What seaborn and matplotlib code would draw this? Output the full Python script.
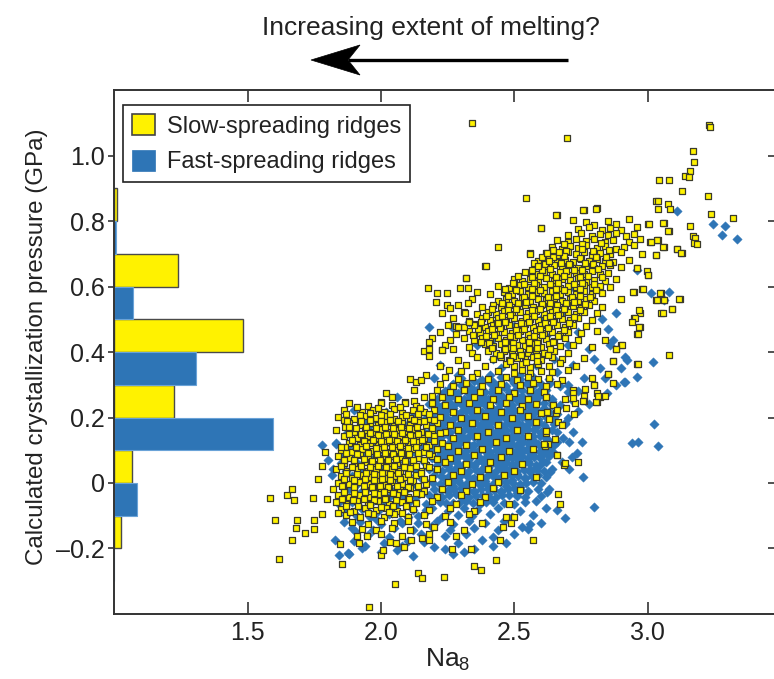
import matplotlib
matplotlib.use("Agg")
import matplotlib.pyplot as plt
from matplotlib.patches import Patch, Polygon
from matplotlib.lines import Line2D
import pandas as pd
import seaborn as sns

sns.set_theme(style="white")
plt.rcParams["font.family"] = ["Liberation Sans", "DejaVu Sans"]
plt.rcParams["mathtext.default"] = "regular"

YELLOW = "#FFF200"
BLUE = "#2E75B6"
INK = "#222222"

# ---------------- histogram of crystallization pressure (fraction of samples per 0.2 GPa bin)
bin_centres = [-0.2, 0.0, 0.2, 0.4, 0.6, 0.8]
slow_fraction = [0.024, 0.067, 0.224, 0.481, 0.238, 0.009]
fast_fraction = [0.0, 0.085, 0.595, 0.307, 0.069, 0.006]

# ---------------- slow-spreading ridges (Na8, pressure in GPa)
slow_upper = [
    (2.76, .835), (2.81, .840), (2.66, .818),
    (2.72, .803), (2.77, .796), (2.80, .789), (2.85, .799), (2.88, .791), (2.93, .806), (3.00, .790), (3.06, .793),
    (2.60, .778), (2.74, .775), (2.78, .781), (2.83, .772), (2.86, .779), (2.90, .774), (2.96, .783),
    (2.70, .757), (2.75, .762), (2.79, .754), (2.82, .760), (2.85, .756), (2.88, .763), (2.92, .755), (2.95, .761), (3.01, .737), (3.08, .770),
    (2.66, .741), (2.70, .736), (2.73, .744), (2.77, .738), (2.80, .745), (2.84, .735), (2.87, .742), (2.93, .737), (2.97, .746), (3.04, .742),
    (2.64, .722), (2.68, .716), (2.71, .724), (2.74, .719), (2.77, .726), (2.81, .717), (2.84, .723), (2.88, .715), (2.91, .721), (2.95, .727), (3.06, .722), (3.11, .715),
    (2.56, .701), (2.62, .703), (2.66, .697), (2.70, .705), (2.73, .699), (2.76, .704), (2.79, .696), (2.82, .702), (2.86, .698), (2.90, .706), (2.98, .699), (3.03, .695), (3.13, .702),
    (2.59, .678), (2.63, .684), (2.66, .676), (2.69, .682), (2.72, .675), (2.75, .683), (2.78, .677), (2.81, .685), (2.84, .679), (2.87, .674), (2.93, .681),
    (2.39, .664), (2.59, .663), (2.62, .657), (2.65, .665), (2.68, .659), (2.71, .666), (2.74, .658), (2.77, .664), (2.80, .656), (2.83, .662), (2.86, .667), (2.90, .660), (2.96, .655),
    (2.54, .643), (2.58, .637), (2.61, .645), (2.64, .638), (2.67, .644), (2.70, .636), (2.73, .642), (2.76, .639), (2.79, .646), (2.82, .637), (2.85, .641), (3.00, .635),
    (2.32, .627), (2.50, .622), (2.53, .616), (2.56, .624), (2.59, .618), (2.62, .625), (2.65, .617), (2.68, .623), (2.71, .619), (2.74, .626), (2.77, .615), (2.80, .621), (2.84, .618), (2.88, .624),
    (2.44, .601), (2.48, .596), (2.52, .604), (2.55, .598), (2.58, .605), (2.61, .597), (2.64, .603), (2.67, .595), (2.70, .602), (2.73, .599), (2.76, .606), (2.79, .597), (2.82, .603), (2.86, .599), (2.98, .593),
    (2.36, .582), (2.41, .577), (2.46, .584), (2.49, .578), (2.52, .585), (2.55, .576), (2.58, .583), (2.61, .579), (2.64, .586), (2.67, .577), (2.70, .584), (2.73, .578), (2.76, .585), (2.79, .576), (2.83, .581), (2.95, .584), (3.05, .579),
    (2.34, .561), (2.44, .556), (2.47, .563), (2.50, .557), (2.53, .564), (2.56, .555), (2.59, .562), (2.62, .558), (2.65, .565), (2.68, .556), (2.71, .563), (2.74, .557), (2.77, .561), (2.80, .555), (2.90, .563), (3.03, .559), (3.06, .559), (3.12, .562),
    (2.29, .542), (2.38, .536), (2.42, .543), (2.45, .537), (2.48, .544), (2.51, .535), (2.54, .542), (2.57, .538), (2.60, .545), (2.63, .536), (2.66, .543), (2.69, .537), (2.72, .541), (2.75, .535), (2.78, .543), (2.83, .538), (3.09, .530),
    (2.31, .521), (2.36, .516), (2.40, .523), (2.43, .517), (2.46, .524), (2.49, .515), (2.52, .522), (2.55, .518), (2.58, .525), (2.61, .516), (2.64, .523), (2.67, .517), (2.70, .521), (2.73, .515), (2.76, .522), (2.81, .518), (2.97, .519), (3.05, .519),
    (2.27, .503), (2.33, .496), (2.38, .504), (2.41, .497), (2.44, .505), (2.47, .498), (2.50, .503), (2.53, .495), (2.56, .502), (2.59, .497), (2.62, .504), (2.65, .496), (2.68, .501), (2.71, .498), (2.74, .505), (2.79, .499), (2.95, .503),
    (2.25, .482), (2.30, .476), (2.35, .484), (2.39, .477), (2.42, .483), (2.45, .475), (2.48, .482), (2.51, .478), (2.54, .485), (2.57, .476), (2.60, .483), (2.63, .477), (2.66, .481), (2.69, .475), (2.72, .482), (2.77, .478), (2.97, .477),
    (2.22, .461), (2.28, .456), (2.33, .463), (2.37, .457), (2.40, .464), (2.43, .455), (2.46, .462), (2.49, .458), (2.52, .465), (2.55, .456), (2.58, .463), (2.61, .457), (2.64, .461), (2.67, .455), (2.70, .462), (2.75, .458), (2.81, .464), (2.96, .456),
    (2.19, .442), (2.26, .436), (2.31, .443), (2.35, .437), (2.38, .444), (2.41, .435), (2.44, .442), (2.47, .438), (2.50, .445), (2.53, .436), (2.56, .443), (2.59, .437), (2.62, .441), (2.65, .435), (2.69, .442), (2.74, .438), (2.84, .436),
    (2.24, .421), (2.33, .416), (2.39, .423), (2.42, .417), (2.45, .424), (2.48, .415), (2.51, .422), (2.54, .418), (2.57, .425), (2.60, .416), (2.63, .423), (2.67, .417), (2.72, .421), (2.79, .415), (2.90, .422),
    (2.16, .402), (2.23, .407), (2.27, .408), (2.34, .396), (2.40, .403), (2.43, .397), (2.46, .404), (2.49, .395), (2.52, .402), (2.55, .398), (2.58, .405), (2.61, .396), (2.65, .403), (2.70, .397), (2.88, .410),
    (2.18, .389), (2.29, .377), (2.36, .384), (2.42, .378), (2.45, .385), (2.48, .376), (2.51, .383), (2.54, .379), (2.57, .386), (2.60, .377), (2.64, .384), (2.68, .378), (2.76, .382), (2.87, .373),
    (2.22, .356), (2.255, .344), (2.32, .361), (2.39, .356), (2.47, .363), (2.50, .357), (2.53, .364), (2.56, .355), (2.59, .362), (2.63, .358), (2.67, .365), (2.73, .356), (2.96, .363),
    (2.17, .331), (2.30, .342), (2.36, .336), (2.44, .343), (2.50, .337), (2.53, .344), (2.56, .335), (2.60, .342), (2.64, .338), (2.70, .344), (2.85, .332),
    (2.11, .317), (2.13, .309), (2.15, .314), (2.24, .323), (2.29, .317), (2.34, .324), (2.40, .318), (2.47, .325), (2.51, .316), (2.55, .323), (2.59, .317), (2.63, .321), (2.68, .315), (2.79, .322),
    (2.22, .302), (2.27, .296), (2.32, .304), (2.38, .297), (2.45, .303), (2.52, .298), (2.57, .305), (2.62, .296), (2.66, .301), (2.80, .300), (2.87, .304),
    (2.125, .284), (2.21, .283), (2.26, .277), (2.31, .284), (2.37, .278), (2.44, .285), (2.50, .276), (2.56, .283), (2.61, .279), (2.72, .283), (2.81, .274),
    (2.02, .274), (2.00, .246), (2.04, .264), (2.09, .248), (2.125, .250), (2.16, .264), (2.19, .266), (2.23, .262), (2.29, .256), (2.35, .263), (2.42, .257), (2.48, .264), (2.55, .255), (2.62, .262), (2.69, .256), (2.76, .265), (2.82, .264), (2.81, .248),
    (2.799, .300), (2.806, .248), (2.76, .249), (2.727, .243), (2.725, .212), (2.692, .230), (2.662, .185), (2.617, .154), (2.652, .133), (2.628, .118),
    (2.615, .113), (2.661, .085), (2.686, .055), (2.74, .063), (2.662, -.033), (2.671, -.064), (2.646, .238), (2.656, .213), (2.621, .218), (2.721, .274),
    (2.719, .259), (2.759, .251), (2.765, .286),
]

slow_upper_core = [
    (2.685, .731), (2.755, .729), (2.825, .733),
    (2.645, .711), (2.695, .709), (2.755, .713), (2.795, .708), (2.855, .712),
    (2.605, .691), (2.645, .689), (2.685, .692), (2.745, .688), (2.805, .691), (2.845, .689),
    (2.575, .671), (2.615, .669), (2.675, .672), (2.705, .668), (2.765, .671), (2.795, .669), (2.855, .672),
    (2.565, .651), (2.605, .649), (2.635, .652), (2.695, .648), (2.725, .651), (2.755, .649), (2.815, .652),
    (2.515, .631), (2.565, .629), (2.595, .632), (2.655, .628), (2.685, .631), (2.745, .629), (2.775, .632), (2.830, .628),
    (2.495, .611), (2.535, .609), (2.575, .612), (2.635, .608), (2.665, .611), (2.725, .609), (2.755, .612), (2.800, .608),
    (2.465, .591), (2.505, .589), (2.565, .592), (2.595, .588), (2.655, .591), (2.685, .589), (2.745, .592), (2.805, .588),
    (2.475, .571), (2.535, .569), (2.565, .572), (2.625, .568), (2.655, .571), (2.715, .569), (2.745, .572), (2.785, .568),
    (2.455, .551), (2.515, .549), (2.545, .552), (2.605, .548), (2.635, .551), (2.695, .549), (2.725, .552), (2.765, .548),
    (2.415, .531), (2.475, .529), (2.505, .532), (2.565, .528), (2.595, .531), (2.655, .529), (2.685, .532), (2.745, .528),
    (2.395, .511), (2.455, .509), (2.485, .512), (2.545, .508), (2.575, .511), (2.635, .509), (2.665, .512), (2.725, .508),
    (2.375, .491), (2.435, .489), (2.465, .492), (2.525, .488), (2.555, .491), (2.615, .489), (2.645, .492), (2.705, .488),
    (2.365, .471), (2.415, .469), (2.445, .472), (2.505, .468), (2.535, .471), (2.595, .469), (2.625, .472), (2.685, .468),
    (2.345, .451), (2.395, .449), (2.425, .452), (2.485, .448), (2.515, .451), (2.575, .449), (2.605, .452), (2.665, .448),
    (2.375, .431), (2.405, .429), (2.465, .432), (2.495, .428), (2.555, .431), (2.585, .429), (2.645, .432),
    (2.415, .411), (2.465, .409), (2.495, .412), (2.555, .408), (2.585, .411), (2.635, .409),
    (2.445, .391), (2.495, .389), (2.525, .392), (2.585, .388), (2.625, .391),
    (2.485, .371), (2.545, .369), (2.585, .372),
]

slow_lower = [
    (1.88, .243), (1.95, .236), (2.00, .244), (2.04, .238), (2.09, .245), (2.13, .236), (2.19, .243), (2.24, .237), (2.33, .244), (2.41, .238), (2.47, .245), (2.53, .236), (2.58, .242),
    (1.86, .222), (1.93, .216), (1.97, .224), (2.01, .217), (2.05, .225), (2.08, .215), (2.12, .223), (2.16, .218), (2.20, .224), (2.27, .216), (2.36, .223), (2.45, .217), (2.52, .224), (2.60, .215), (2.66, .222),
    (1.84, .201), (1.90, .196), (1.94, .204), (1.98, .197), (2.02, .205), (2.05, .195), (2.08, .202), (2.11, .198), (2.14, .205), (2.18, .196), (2.22, .203), (2.30, .197), (2.39, .204), (2.49, .198), (2.55, .205), (2.63, .196),
    (1.88, .182), (1.92, .176), (1.96, .184), (1.99, .177), (2.02, .185), (2.05, .175), (2.08, .182), (2.11, .178), (2.14, .185), (2.17, .176), (2.21, .183), (2.26, .177), (2.34, .184), (2.44, .178), (2.58, .185), (2.68, .176),
    (1.83, .161), (1.90, .156), (1.94, .163), (1.97, .157), (2.00, .164), (2.03, .155), (2.06, .162), (2.09, .158), (2.12, .165), (2.15, .156), (2.19, .163), (2.24, .157), (2.29, .161), (2.40, .155), (2.51, .162), (2.62, .158),
    (1.86, .142), (1.91, .136), (1.95, .143), (1.98, .137), (2.01, .144), (2.04, .135), (2.07, .142), (2.10, .138), (2.13, .145), (2.16, .136), (2.20, .143), (2.27, .137), (2.36, .144), (2.47, .138), (2.55, .145),
    (1.88, .121), (1.92, .116), (1.96, .123), (1.99, .117), (2.02, .124), (2.05, .115), (2.08, .122), (2.11, .118), (2.14, .125), (2.18, .116), (2.23, .123), (2.32, .117), (2.43, .124), (2.61, .118),
    (1.85, .101), (1.89, .096), (1.93, .104), (1.97, .097), (2.00, .105), (2.03, .095), (2.06, .102), (2.09, .098), (2.12, .105), (2.16, .096), (2.21, .103), (2.29, .097), (2.38, .104), (2.48, .098), (2.57, .105),
    (1.84, .082), (1.88, .076), (1.92, .084), (1.95, .077), (1.98, .085), (2.01, .075), (2.04, .082), (2.07, .078), (2.10, .085), (2.14, .076), (2.19, .083), (2.26, .077), (2.35, .084), (2.45, .078), (2.66, .085),
    (1.86, .061), (1.90, .056), (1.94, .063), (1.97, .057), (2.00, .064), (2.03, .055), (2.06, .062), (2.09, .058), (2.12, .065), (2.17, .056), (2.24, .063), (2.32, .057), (2.41, .064), (2.53, .058), (2.69, .061),
    (1.83, .042), (1.87, .036), (1.91, .043), (1.95, .037), (1.98, .044), (2.01, .035), (2.04, .042), (2.07, .038), (2.11, .045), (2.15, .036), (2.21, .043), (2.30, .037), (2.40, .044), (2.50, .038),
    (1.85, .021), (1.89, .016), (1.93, .023), (1.96, .017), (1.99, .024), (2.02, .015), (2.05, .022), (2.09, .018), (2.13, .025), (2.19, .016), (2.27, .023), (2.37, .017), (2.46, .024), (2.58, .018),
    (1.84, .001), (1.88, -.004), (1.92, .004), (1.95, -.003), (1.98, .005), (2.01, -.005), (2.04, .002), (2.08, -.002), (2.12, .005), (2.17, -.004), (2.25, .003), (2.34, -.003), (2.44, .004),
    (1.82, -.019), (1.86, -.024), (1.90, -.016), (1.94, -.023), (1.97, -.015), (2.00, -.025), (2.03, -.018), (2.07, -.022), (2.11, -.015), (2.16, -.024), (2.23, -.017), (2.32, -.023), (2.42, -.016), (2.52, -.022),
    (1.84, -.038), (1.88, -.044), (1.92, -.036), (1.96, -.043), (1.99, -.035), (2.02, -.045), (2.06, -.038), (2.10, -.042), (2.15, -.035), (2.21, -.044), (2.30, -.037), (2.39, -.043),
    (1.83, -.059), (1.87, -.064), (1.91, -.056), (1.95, -.063), (1.99, -.055), (2.03, -.065), (2.08, -.058), (2.13, -.062), (2.19, -.055), (2.28, -.064), (2.37, -.057), (2.48, -.063),
    (1.85, -.079), (1.90, -.084), (1.94, -.076), (1.98, -.083), (2.02, -.075), (2.06, -.085), (2.12, -.078), (2.18, -.082), (2.26, -.076), (2.35, -.084),
    (1.87, -.099), (1.92, -.104), (1.97, -.096), (2.01, -.103), (2.05, -.095), (2.10, -.105), (2.16, -.098), (2.24, -.102), (2.33, -.096), (2.47, -.104),
    (1.89, -.119), (1.95, -.124), (2.00, -.116), (2.05, -.123), (2.10, -.115), (2.17, -.125), (2.26, -.118), (2.38, -.122),
    (1.93, -.139), (1.98, -.144), (2.04, -.136), (2.11, -.143), (2.20, -.135), (2.31, -.142),
    (1.91, -.161), (2.00, -.156), (2.08, -.163), (2.18, -.157), (2.28, -.162),
]

slow_lower_core = [
    (1.91, .231), (1.99, .229), (2.07, .233), (2.145, .228),
    (1.87, .211), (1.92, .208), (1.96, .213), (2.00, .209), (2.035, .212), (2.095, .208), (2.14, .212), (2.18, .210),
    (1.86, .191), (1.925, .189), (1.96, .192), (2.00, .188), (2.035, .191), (2.065, .189), (2.125, .192), (2.16, .188), (2.20, .191),
    (1.865, .171), (1.905, .169), (1.945, .172), (1.98, .168), (2.015, .171), (2.045, .169), (2.075, .172), (2.105, .168), (2.135, .171), (2.19, .169),
    (1.88, .151), (1.925, .149), (1.96, .152), (1.99, .148), (2.02, .151), (2.05, .149), (2.08, .152), (2.11, .148), (2.14, .151), (2.175, .149), (2.22, .152),
    (1.89, .131), (1.935, .129), (1.97, .132), (2.00, .128), (2.03, .131), (2.06, .129), (2.09, .132), (2.12, .128), (2.155, .131), (2.20, .129),
    (1.865, .111), (1.905, .109), (1.945, .112), (1.98, .108), (2.01, .111), (2.04, .109), (2.07, .112), (2.10, .108), (2.13, .111), (2.17, .109), (2.25, .112),
    (1.87, .091), (1.91, .089), (1.95, .092), (1.985, .088), (2.015, .091), (2.045, .089), (2.075, .092), (2.105, .088), (2.14, .091), (2.18, .089),
    (1.86, .071), (1.90, .069), (1.935, .072), (1.965, .068), (1.995, .071), (2.025, .069), (2.055, .072), (2.09, .068), (2.12, .071), (2.16, .069), (2.21, .072),
    (1.85, .051), (1.89, .049), (1.925, .052), (1.96, .048), (1.99, .051), (2.02, .049), (2.05, .052), (2.085, .048), (2.13, .051), (2.18, .049),
    (1.87, .031), (1.91, .029), (1.945, .032), (1.975, .028), (2.005, .031), (2.035, .029), (2.065, .032), (2.10, .028), (2.15, .031),
    (1.86, .011), (1.90, .009), (1.94, .012), (1.975, .008), (2.005, .011), (2.035, .009), (2.07, .012), (2.11, .008), (2.16, .011),
    (1.855, -.009), (1.90, -.011), (1.935, -.008), (1.965, -.012), (1.995, -.009), (2.025, -.011), (2.06, -.008), (2.10, -.012), (2.14, -.009),
    (1.86, -.029), (1.90, -.031), (1.94, -.028), (1.975, -.032), (2.01, -.029), (2.045, -.031), (2.085, -.028), (2.13, -.032),
    (1.855, -.049), (1.895, -.051), (1.935, -.048), (1.975, -.052), (2.015, -.049), (2.055, -.051), (2.105, -.048),
    (1.87, -.069), (1.915, -.071), (1.96, -.068), (2.00, -.072), (2.045, -.069), (2.095, -.071),
    (1.885, -.089), (1.95, -.091), (2.03, -.088), (2.08, -.092),
]

slow_sparse = [
    (1.584, -.045), (1.646, -.037), (1.668, -.018), (1.675, -.053), (1.744, -.045), (1.799, -.049), (1.603, -.113), (1.685, -.113),
    (1.750, -.113), (1.681, -.136), (1.715, -.152), (1.749, -.140), (1.779, -.096), (1.666, -.175), (1.618, -.232), (1.853, -.248),
    (1.765, .011), (1.778, .053), (1.789, .094), (1.851, .109), (1.871, .189), (1.879, .172), (1.838, -.091), (1.848, -.186),
    (1.946, -.163), (1.916, -.183), (1.999, -.220), (2.009, -.205), (2.034, -.179), (2.055, -.182), (2.053, -.307), (2.140, -.276),
    (2.154, -.291), (2.238, -.287), (1.955, -.378), (2.088, -.195), (2.114, -.175), (2.153, -.168), (2.179, -.174), (2.266, -.202),
    (2.339, -.202), (2.349, -.252), (2.374, -.266), (2.433, -.235), (2.446, -.175), (2.571, -.174), (2.500, -.103), (2.456, -.135),
    (2.488, -.123),
    (2.18, .408), (2.18, .432), (2.23, .407), (2.28, .479), (2.31, .477), (2.35, .482), (2.44, .488),
    (2.178, .594), (2.209, .581), (2.246, .579), (2.296, .594), (2.206, .554), (2.246, .544), (2.259, .533), (2.228, .518),
    (2.320, .625), (2.328, .594), (2.328, .549), (2.315, .518), (2.290, .477), (2.330, .492),
    (2.340, 1.100), (2.696, 1.054), (3.230, 1.093), (3.234, 1.087), (3.170, 1.014), (3.175, .981), (3.159, .953), (3.141, .937),
    (3.154, .933), (3.043, .925), (3.080, .925), (3.130, .893), (3.228, .877), (3.030, .862), (3.039, .862), (3.038, .838),
    (3.076, .853), (3.084, .837), (3.239, .822), (3.321, .810), (3.159, .786), (3.170, .755), (3.179, .749), (3.173, .734),
    (3.184, .731), (2.544, .869), (2.656, .817), (2.759, .835), (2.808, .838), (2.599, .778), (2.438, .722), (2.559, .698),
    (2.393, .664), (2.590, .663), (2.621, .702), (2.668, .705), (2.630, .678),
    (3.004, .790), (3.058, .793), (3.078, .770), (3.111, .715), (3.126, .702), (3.058, .722), (3.036, .742), (3.030, .695),
    (3.011, .737), (2.996, .648), (3.000, .635), (2.984, .593), (2.959, .655), (3.048, .579), (3.034, .559), (3.060, .559),
    (3.116, .562), (3.091, .530), (3.056, .519), (3.081, .391), (2.946, .584), (2.969, .529), (2.953, .503), (2.940, .493),
    (2.969, .477), (2.963, .456), (2.964, .363), (2.904, .421), (2.853, .332), (2.839, .265), (2.813, .265), (2.869, .373),
    (2.880, .410),
]

# ---------------- fast-spreading ridges (Na8, pressure in GPa)
fast_core = [
    (2.30, .322), (2.38, .316), (2.45, .324), (2.52, .317), (2.57, .323), (2.63, .318),
    (2.27, .302), (2.33, .296), (2.41, .304), (2.47, .297), (2.50, .305), (2.55, .298), (2.60, .303), (2.67, .296),
    (2.24, .282), (2.29, .276), (2.35, .284), (2.39, .277), (2.44, .285), (2.48, .278), (2.53, .283), (2.58, .276), (2.62, .284), (2.70, .277),
    (2.06, .262), (2.21, .256), (2.26, .264), (2.31, .257), (2.36, .265), (2.40, .256), (2.43, .263), (2.47, .258), (2.51, .265), (2.55, .256), (2.59, .262), (2.64, .257),
    (2.18, .242), (2.23, .236), (2.28, .244), (2.33, .237), (2.37, .245), (2.41, .236), (2.45, .243), (2.49, .238), (2.52, .245), (2.56, .236), (2.61, .243), (2.67, .237),
    (1.90, .222), (2.02, .216), (2.15, .224), (2.20, .217), (2.25, .225), (2.30, .216), (2.34, .223), (2.38, .218), (2.42, .225), (2.46, .216), (2.50, .223), (2.54, .217), (2.58, .224), (2.63, .218),
    (1.92, .202), (1.97, .196), (2.12, .204), (2.17, .197), (2.22, .205), (2.27, .196), (2.32, .203), (2.36, .198), (2.40, .205), (2.44, .196), (2.47, .203), (2.51, .197), (2.55, .204), (2.59, .196), (2.65, .203),
    (1.94, .182), (2.09, .176), (2.14, .184), (2.19, .177), (2.24, .185), (2.29, .176), (2.33, .183), (2.37, .178), (2.41, .185), (2.45, .176), (2.49, .183), (2.53, .177), (2.57, .184), (2.61, .176), (2.69, .183),
    (1.88, .162), (2.01, .156), (2.11, .164), (2.16, .157), (2.21, .165), (2.26, .156), (2.31, .163), (2.35, .158), (2.39, .165), (2.43, .156), (2.47, .163), (2.51, .157), (2.55, .164), (2.60, .156), (2.64, .163),
    (1.93, .142), (2.07, .136), (2.13, .144), (2.18, .137), (2.23, .145), (2.28, .136), (2.33, .143), (2.37, .138), (2.41, .145), (2.45, .136), (2.49, .143), (2.53, .137), (2.57, .144), (2.62, .136),
    (1.83, .122), (1.88, .116), (1.98, .124), (2.04, .117), (2.10, .125), (2.15, .116), (2.20, .123), (2.25, .118), (2.30, .125), (2.35, .116), (2.39, .123), (2.43, .117), (2.47, .124), (2.51, .116), (2.55, .123), (2.59, .118), (2.66, .125),
    (1.90, .102), (2.01, .096), (2.07, .104), (2.12, .097), (2.17, .105), (2.22, .096), (2.27, .103), (2.32, .098), (2.37, .105), (2.41, .096), (2.45, .103), (2.49, .097), (2.53, .104), (2.57, .096), (2.63, .103),
    (1.86, .082), (1.96, .076), (2.04, .084), (2.09, .077), (2.14, .085), (2.19, .076), (2.24, .083), (2.29, .078), (2.34, .085), (2.39, .076), (2.43, .083), (2.47, .077), (2.51, .084), (2.55, .076), (2.60, .083),
    (1.91, .062), (2.00, .056), (2.06, .064), (2.11, .057), (2.16, .065), (2.21, .056), (2.26, .063), (2.31, .058), (2.36, .065), (2.41, .056), (2.45, .063), (2.49, .057), (2.53, .064), (2.58, .056), (2.62, .063),
    (1.82, .042), (1.87, .036), (1.97, .044), (2.03, .037), (2.08, .045), (2.13, .036), (2.18, .043), (2.23, .038), (2.28, .045), (2.33, .036), (2.38, .043), (2.43, .037), (2.47, .044), (2.51, .036), (2.56, .043), (2.61, .037),
    (1.89, .022), (1.94, .016), (2.00, .024), (2.05, .017), (2.10, .025), (2.15, .016), (2.20, .023), (2.25, .018), (2.30, .025), (2.35, .016), (2.40, .023), (2.45, .017), (2.49, .024), (2.54, .016), (2.59, .023),
    (1.85, .002), (1.91, -.004), (1.97, .004), (2.02, -.003), (2.07, .005), (2.12, -.004), (2.17, .003), (2.22, -.002), (2.27, .005), (2.32, -.004), (2.37, .003), (2.42, -.003), (2.47, .004), (2.52, -.004), (2.57, .003),
    (1.88, -.018), (1.94, -.024), (2.00, -.016), (2.05, -.023), (2.10, -.015), (2.15, -.024), (2.20, -.017), (2.25, -.022), (2.30, -.015), (2.35, -.024), (2.40, -.017), (2.45, -.023), (2.50, -.016), (2.55, -.024), (2.63, -.017),
    (1.86, -.038), (1.92, -.044), (1.98, -.036), (2.03, -.043), (2.08, -.035), (2.13, -.044), (2.18, -.037), (2.23, -.042), (2.28, -.035), (2.33, -.044), (2.38, -.037), (2.43, -.043), (2.48, -.036), (2.54, -.044),
    (1.89, -.058), (1.96, -.064), (2.01, -.056), (2.06, -.063), (2.11, -.055), (2.17, -.064), (2.22, -.057), (2.27, -.062), (2.32, -.055), (2.37, -.064), (2.42, -.057), (2.50, -.063), (2.58, -.056),
    (1.93, -.078), (1.99, -.084), (2.05, -.076), (2.12, -.083), (2.19, -.075), (2.25, -.084), (2.31, -.077), (2.36, -.082), (2.44, -.075), (2.52, -.084), (2.62, -.077),
    (1.87, -.098), (1.96, -.104), (2.03, -.096), (2.10, -.103), (2.16, -.095), (2.23, -.104), (2.29, -.097), (2.34, -.102), (2.41, -.095), (2.49, -.104), (2.57, -.097),
    (1.92, -.118), (2.00, -.124), (2.07, -.116), (2.14, -.123), (2.21, -.115), (2.27, -.124), (2.33, -.117), (2.39, -.122), (2.46, -.115), (2.56, -.124),
    (1.89, -.138), (1.97, -.144), (2.05, -.136), (2.12, -.143), (2.19, -.135), (2.26, -.144), (2.35, -.137), (2.44, -.142), (2.53, -.135),
    (1.95, -.158), (2.03, -.164), (2.15, -.156), (2.24, -.163), (2.32, -.155), (2.42, -.164), (2.50, -.157),
    (1.90, -.178), (2.01, -.184), (2.10, -.176), (2.29, -.183), (2.38, -.175), (2.47, -.184),
    (1.93, -.198), (2.06, -.204), (2.20, -.196), (2.35, -.203),
    (1.88, -.218), (2.12, -.224), (2.27, -.216),
    (1.829, -.174), (1.844, -.220), (1.878, -.215), (1.906, -.149),
]

fast_dense = [
    (2.35, .311), (2.42, .307), (2.49, .313), (2.55, .309),
    (2.26, .291), (2.31, .288), (2.37, .293), (2.42, .287), (2.46, .292), (2.51, .289), (2.56, .294), (2.60, .287),
    (2.23, .271), (2.28, .268), (2.33, .273), (2.38, .267), (2.42, .272), (2.45, .269), (2.49, .274), (2.53, .267), (2.57, .272), (2.62, .268),
    (2.25, .251), (2.30, .248), (2.35, .253), (2.39, .247), (2.43, .252), (2.47, .249), (2.51, .254), (2.54, .247), (2.58, .252), (2.64, .249),
    (2.22, .231), (2.27, .228), (2.32, .233), (2.36, .227), (2.40, .232), (2.44, .229), (2.48, .234), (2.52, .227), (2.56, .232), (2.61, .228),
    (2.24, .211), (2.29, .208), (2.34, .213), (2.38, .207), (2.42, .212), (2.45, .209), (2.49, .214), (2.53, .207), (2.57, .212), (2.62, .208),
    (2.21, .191), (2.26, .188), (2.31, .193), (2.35, .187), (2.39, .192), (2.43, .189), (2.47, .194), (2.51, .187), (2.55, .192), (2.59, .188),
    (2.23, .171), (2.28, .168), (2.33, .173), (2.37, .167), (2.41, .172), (2.45, .169), (2.49, .174), (2.53, .167), (2.58, .172), (2.62, .168),
    (2.25, .151), (2.30, .148), (2.35, .153), (2.39, .147), (2.43, .152), (2.47, .149), (2.51, .154), (2.55, .147), (2.60, .152),
    (2.22, .131), (2.27, .128), (2.32, .133), (2.37, .127), (2.41, .132), (2.45, .129), (2.49, .134), (2.53, .127), (2.57, .132), (2.63, .128),
    (2.24, .111), (2.29, .108), (2.34, .113), (2.39, .107), (2.43, .112), (2.47, .109), (2.51, .114), (2.55, .107), (2.60, .112),
    (2.26, .091), (2.31, .088), (2.36, .093), (2.41, .087), (2.45, .092), (2.49, .089), (2.53, .094), (2.57, .087), (2.62, .092),
    (2.23, .071), (2.28, .068), (2.33, .073), (2.38, .067), (2.43, .072), (2.47, .069), (2.51, .074), (2.55, .067), (2.60, .072),
    (2.25, .051), (2.30, .048), (2.35, .053), (2.40, .047), (2.45, .052), (2.49, .049), (2.53, .054), (2.58, .047),
    (2.27, .031), (2.32, .028), (2.37, .033), (2.42, .027), (2.47, .032), (2.51, .029), (2.56, .034),
    (2.24, .011), (2.29, .008), (2.34, .013), (2.39, .007), (2.44, .012), (2.49, .009), (2.54, .014),
    (2.27, -.009), (2.32, -.012), (2.37, -.007), (2.42, -.013), (2.47, -.008), (2.52, -.011),
    (2.25, -.029), (2.30, -.032), (2.35, -.027), (2.40, -.033), (2.45, -.028), (2.51, -.031),
    (1.95, .171), (2.03, .189), (2.07, .151), (1.99, .131), (2.06, .111), (1.94, .091), (2.02, .071), (2.10, .051),
    (1.93, .031), (2.04, .011), (1.99, -.029), (2.09, -.049), (1.95, -.071),
]

fast_fill = [
    (2.30, .299), (2.37, .304), (2.44, .298), (2.525, .303), (2.575, .300), (2.635, .305),
    (2.265, .280), (2.32, .285), (2.415, .279), (2.505, .284), (2.555, .279), (2.60, .282),
    (2.235, .261), (2.285, .258), (2.335, .262), (2.38, .259), (2.49, .261), (2.57, .258), (2.615, .262),
    (2.205, .240), (2.255, .244), (2.305, .238), (2.35, .242), (2.39, .239), (2.47, .241), (2.54, .240), (2.585, .243), (2.64, .238),
    (2.225, .221), (2.275, .219), (2.32, .222), (2.36, .218), (2.40, .221), (2.44, .220), (2.48, .222), (2.52, .219), (2.56, .221), (2.605, .220),
    (2.195, .200), (2.245, .202), (2.295, .199), (2.34, .201), (2.38, .198), (2.42, .202), (2.49, .200), (2.53, .201), (2.57, .199), (2.62, .202),
    (2.215, .180), (2.265, .182), (2.31, .179), (2.35, .181), (2.39, .178), (2.43, .182), (2.47, .180), (2.51, .181), (2.55, .179), (2.59, .182), (2.65, .180),
    (2.185, .160), (2.235, .162), (2.285, .159), (2.33, .161), (2.37, .158), (2.41, .162), (2.45, .160), (2.49, .161), (2.53, .159), (2.575, .162), (2.62, .160),
    (2.205, .140), (2.255, .142), (2.305, .139), (2.35, .141), (2.39, .138), (2.43, .142), (2.47, .140), (2.51, .141), (2.55, .139), (2.595, .142),
    (2.225, .120), (2.275, .122), (2.325, .119), (2.37, .121), (2.41, .118), (2.45, .122), (2.49, .120), (2.53, .121), (2.57, .119), (2.625, .122),
    (2.195, .100), (2.245, .102), (2.295, .099), (2.345, .101), (2.39, .098), (2.43, .102), (2.47, .100), (2.51, .101), (2.55, .099), (2.60, .102),
    (2.215, .080), (2.265, .082), (2.315, .079), (2.365, .081), (2.41, .078), (2.45, .082), (2.49, .080), (2.53, .081), (2.575, .079), (2.63, .082),
    (2.235, .060), (2.285, .062), (2.335, .059), (2.385, .061), (2.43, .058), (2.47, .062), (2.51, .060), (2.555, .061), (2.60, .059),
    (2.205, .040), (2.255, .042), (2.305, .039), (2.355, .041), (2.405, .038), (2.45, .042), (2.49, .040), (2.535, .041), (2.585, .039),
    (2.225, .020), (2.275, .022), (2.325, .019), (2.375, .021), (2.425, .018), (2.47, .022), (2.515, .020), (2.565, .021), (2.62, .019),
    (2.195, .000), (2.245, .002), (2.295, -.001), (2.345, .001), (2.395, -.002), (2.445, .002), (2.495, .000), (2.545, .001), (2.60, -.001),
    (2.225, -.020), (2.275, -.018), (2.325, -.021), (2.375, -.019), (2.425, -.022), (2.475, -.018), (2.525, -.020), (2.59, -.019),
    (2.205, -.040), (2.255, -.038), (2.305, -.041), (2.355, -.039), (2.405, -.042), (2.455, -.038), (2.51, -.040),
    (2.245, -.060), (2.295, -.058), (2.345, -.061), (2.395, -.059), (2.46, -.062), (2.54, -.058),
    (1.87, .151), (1.91, .111), (1.85, .061), (1.89, .001), (1.92, -.031), (1.86, -.081), (1.91, -.101), (1.98, -.111),
    (2.04, -.091), (2.08, -.121), (2.14, -.101), (2.19, -.131), (2.17, -.081), (1.94, -.191), (2.00, -.211), (2.08, -.191),
    (2.16, -.181), (2.24, -.201), (2.31, -.211), (2.42, -.191), (2.55, -.141), (2.60, -.121), (2.66, -.081),
]

fast_sparse = [
    (1.920, .190), (1.946, .147), (1.780, .116), (1.830, .119), (1.815, .024), (1.884, .085), (1.800, .070), (1.840, -.060), (1.860, -.120),
    (2.180, .475), (2.265, .477), (2.330, .493), (2.425, .442), (2.360, .420), (2.290, .330), (2.410, .330), (2.370, .310),
    (2.265, .300), (2.220, .360), (2.200, .320),
    (3.013, .579), (3.063, .559), (3.081, .582), (2.959, .650), (2.915, .386), (2.921, .376), (3.021, .370), (2.960, .325),
    (2.916, .309), (2.846, .274), (2.870, .437), (2.860, .420), (2.900, .350), (2.880, .300), (2.840, .320), (2.820, .350),
    (2.800, .380), (2.780, .410), (2.850, .470), (2.830, .500), (2.880, .520),
    (3.109, .830), (3.245, .790), (3.290, .786), (3.280, .757), (3.336, .745),
    (2.45, .350), (2.52, .330), (2.58, .360), (2.65, .380), (2.70, .420), (2.74, .460), (2.62, .450), (2.55, .400),
    (2.48, .420), (2.42, .380), (2.68, .520), (2.77, .550), (2.72, .600), (2.60, .500), (2.50, .480), (2.66, .340),
    (2.72, .360), (2.76, .320), (2.70, .300), (2.74, .280),
    (3.024, .181), (2.940, .123), (2.965, .126), (3.038, .113), (2.911, .308), (2.721, .157), (2.753, .126), (2.706, .126),
    (2.681, .136), (2.736, .093), (2.715, .080), (2.759, .019), (2.706, .042), (2.640, .042), (2.634, .035), (2.621, -.026),
    (2.600, -.040), (2.799, -.072), (2.690, -.108), (2.680, .065), (2.650, .116), (2.659, .157), (2.621, .131), (2.596, .096),
    (2.646, .096), (2.700, .200), (2.740, .220), (2.780, .240), (2.720, .250), (2.660, .210), (2.690, .180),
]

slow = pd.DataFrame(slow_upper + slow_upper_core + slow_lower + slow_lower_core + slow_sparse,
                    columns=["na8", "pressure"])
fast = pd.DataFrame(fast_core + fast_dense + fast_fill + fast_sparse, columns=["na8", "pressure"])

# ---------------- figure
fig = plt.figure(figsize=(7.74, 6.79), dpi=100)
ax = fig.add_axes([0.14767, 0.09573, 0.86137, 0.77172])
ax.set_xlim(1.0, 3.5)
ax.set_ylim(-0.4, 1.2)

# histogram bars hang off the left axis: slow above each bin tick, fast below it
ax.barh([c + 0.05 for c in bin_centres], slow_fraction, height=0.1, left=1.0,
        color=YELLOW, edgecolor="#4a4a4a", linewidth=1.0, zorder=2)
ax.barh([c - 0.05 for c in bin_centres], fast_fraction, height=0.1, left=1.0,
        color=BLUE, edgecolor="#6aa3d8", linewidth=0.8, zorder=2)

sns.scatterplot(data=fast, x="na8", y="pressure", ax=ax, marker="D", s=23,
                color=BLUE, edgecolor=BLUE, linewidth=0.3, legend=False, zorder=3)
sns.scatterplot(data=slow, x="na8", y="pressure", ax=ax, marker="s", s=17,
                color=YELLOW, edgecolor="#3b3b2c", linewidth=0.9, legend=False, zorder=4)

# axes styling
for side in ["left", "bottom", "top", "right"]:
    ax.spines[side].set_visible(True)
    ax.spines[side].set_color("#333333")
    ax.spines[side].set_linewidth(1.4)

ax.set_xticks([1.5, 2.0, 2.5, 3.0])
ax.set_xticklabels(["1.5", "2.0", "2.5", "3.0"])
ax.set_yticks([-0.2, 0.0, 0.2, 0.4, 0.6, 0.8, 1.0])
ax.set_yticklabels(["\u20130.2", "0", "0.2", "0.4", "0.6", "0.8", "1.0"])
ax.tick_params(axis="x", which="major", direction="in", length=8.6, width=1.2,
               top=True, bottom=True, labelsize=18, pad=5, colors="#333333", labelcolor=INK)
ax.tick_params(axis="y", which="major", direction="out", length=4, width=1.2,
               left=True, right=False, labelsize=18, pad=3, colors="#333333", labelcolor=INK)

right = ax.secondary_yaxis("right")
right.set_yticks([-0.2, 0.0, 0.2, 0.4, 0.6, 0.8, 1.0])
right.tick_params(direction="in", length=9.5, width=1.2, labelright=False, colors="#333333")

ax.set_xlabel("Na$_8$", fontsize=19, color=INK)
ax.xaxis.set_label_coords(0.5, -0.063)
ax.set_ylabel("Calculated crystallization pressure (GPa)", fontsize=17.4, color=INK)
ax.yaxis.set_label_coords(-0.100, 0.5105)

handles = [
    Patch(facecolor=YELLOW, edgecolor="#444444", linewidth=1.2, label="Slow-spreading ridges"),
    Patch(facecolor=BLUE, edgecolor=BLUE, linewidth=0.5, label="Fast-spreading ridges"),
]
leg = ax.legend(handles=handles, loc="upper left", bbox_to_anchor=(0.0126, 0.971),
                borderaxespad=0, fontsize=17, frameon=True, fancybox=False,
                edgecolor="#222222", framealpha=1, borderpad=0.38, labelspacing=0.5,
                handlelength=1.0, handleheight=1.0, handletextpad=0.5)
leg.get_frame().set_linewidth(1.2)
leg.set_zorder(10)
for t in leg.get_texts():
    t.set_color(INK)

# heading with direction arrow
W, H = 774.0, 679.0
def fpt(x, y):
    return (x / W, 1 - y / H)

fig.text(431 / W, 1 - 35 / H, "Increasing extent of melting?", ha="center", va="baseline",
         fontsize=19, color=INK)
fig.add_artist(Line2D([fpt(348, 60)[0], fpt(568, 60)[0]], [fpt(348, 60)[1], fpt(568, 60)[1]],
                      transform=fig.transFigure, color="black", linewidth=2.4, solid_capstyle="butt"))
fig.add_artist(Polygon([fpt(311, 60), fpt(360, 45), fpt(348, 60), fpt(360, 75)],
                       closed=True, transform=fig.transFigure, facecolor="black", edgecolor="black",
                       linewidth=0.5))

fig.savefig("out.png", dpi=100, facecolor="white")
